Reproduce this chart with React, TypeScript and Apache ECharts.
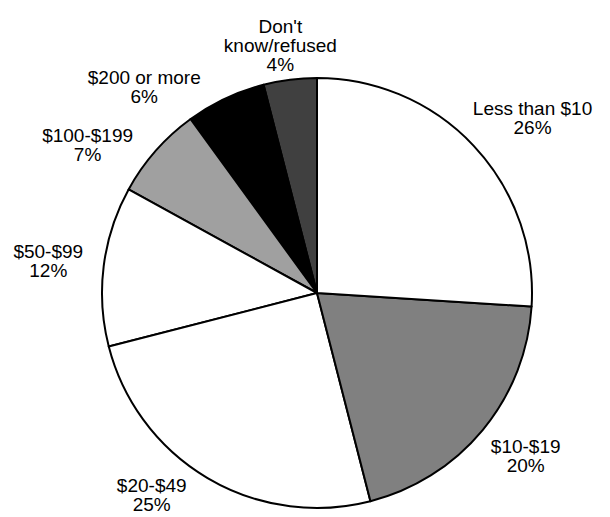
import React, { useEffect, useRef } from "react";
import * as echarts from "echarts";

const categories = [
  "Less than $10",
  "$10-$19",
  "$20-$49",
  "$50-$99",
  "$100-$199",
  "$200 or more",
  "Don't\nknow/refused",
];
const values = [26, 20, 25, 12, 7, 6, 4];
const colors = ["#ffffff", "#808080", "#ffffff", "#ffffff", "#a0a0a0", "#000000", "#404040"];

const CX = 317;
const CY = 293;
const R = 215;
const GAP = 21;
const PAD = 20;
const TOP_BOUND = 17;
const BOTTOM_BOUND = 515;

type Box = { cx: number; cy: number; w: number; h: number };

export default function App() {
  const ref = useRef<HTMLDivElement>(null);
  useEffect(() => {
    const chart = echarts.init(ref.current!, null, { renderer: "svg" });

    // Series is drawn counter-clockwise in reversed order (same picture),
    // so that labels are laid out from the top going counter-clockwise.
    const order = categories.map((_, i) => i).reverse();
    const total = values.reduce((a, b) => a + b, 0);
    const mids: number[] = [];
    let acc = 0;
    order.forEach((i) => {
      mids.push(360 - ((acc + values[i] / 2) / total) * 360);
      acc += values[i];
    });
    const placed: Box[] = [];

    const boxAt = (phi: number, w: number, h: number): Box => {
      const rad = (phi * Math.PI) / 180;
      const ux = Math.sin(rad);
      const uy = -Math.cos(rad);
      const cx = CX + (R + GAP) * ux + (ux * w) / 2;
      let cy = CY + (R + GAP) * uy + (uy * h) / 2;
      if (cy - h / 2 < TOP_BOUND) cy = TOP_BOUND + h / 2;
      return { cx, cy, w, h };
    };
    const overlaps = (a: Box, b: Box) =>
      Math.abs(a.cx - b.cx) < (a.w + b.w) / 2 + PAD &&
      Math.abs(a.cy - b.cy) < (a.h + b.h) / 2 + PAD;

    chart.setOption({
      animation: false,
      backgroundColor: "#ffffff",
      textStyle: { fontFamily: "Liberation Sans" },
      series: [
        {
          type: "pie",
          center: [CX, CY],
          radius: R,
          startAngle: 90,
          clockwise: false,
          avoidLabelOverlap: false,
          percentPrecision: 0,
          data: order.map((i) => ({
            name: categories[i],
            value: values[i],
            itemStyle: { color: colors[i] },
          })),
          itemStyle: { borderColor: "#000000", borderWidth: 2 },
          emphasis: { disabled: true },
          label: {
            show: true,
            position: "outside",
            formatter: "{b}\n{d}%",
            fontSize: 19,
            lineHeight: 19,
            color: "#000000",
            fontFamily: "Liberation Sans",
          },
          labelLine: { show: false },
          labelLayout: (p: any) => {
            const k = p.dataIndex;
            const w = p.labelRect.width;
            const h = p.labelRect.height;
            let phi = mids[k];
            let b = boxAt(phi, w, h);
            for (let guard = 0; guard < 90; guard++) {
              if (b.cy + h / 2 > BOTTOM_BOUND) {
                phi += Math.sin((phi * Math.PI) / 180) < 0 ? 1 : -1;
                b = boxAt(phi, w, h);
                continue;
              }
              let hit = false;
              for (let j = 0; j < k; j++) {
                if (placed[j] && overlaps(b, placed[j])) hit = true;
              }
              if (!hit) break;
              phi -= 1;
              b = boxAt(phi, w, h);
            }
            placed[k] = b;
            return { x: b.cx, y: b.cy, align: "center", verticalAlign: "middle" };
          },
        },
      ],
    });
    return () => chart.dispose();
  }, []);
  return (
    <div
      ref={ref}
      style={{ position: "absolute", left: 0, top: 0, width: 610, height: 517 }}
    />
  );
}
